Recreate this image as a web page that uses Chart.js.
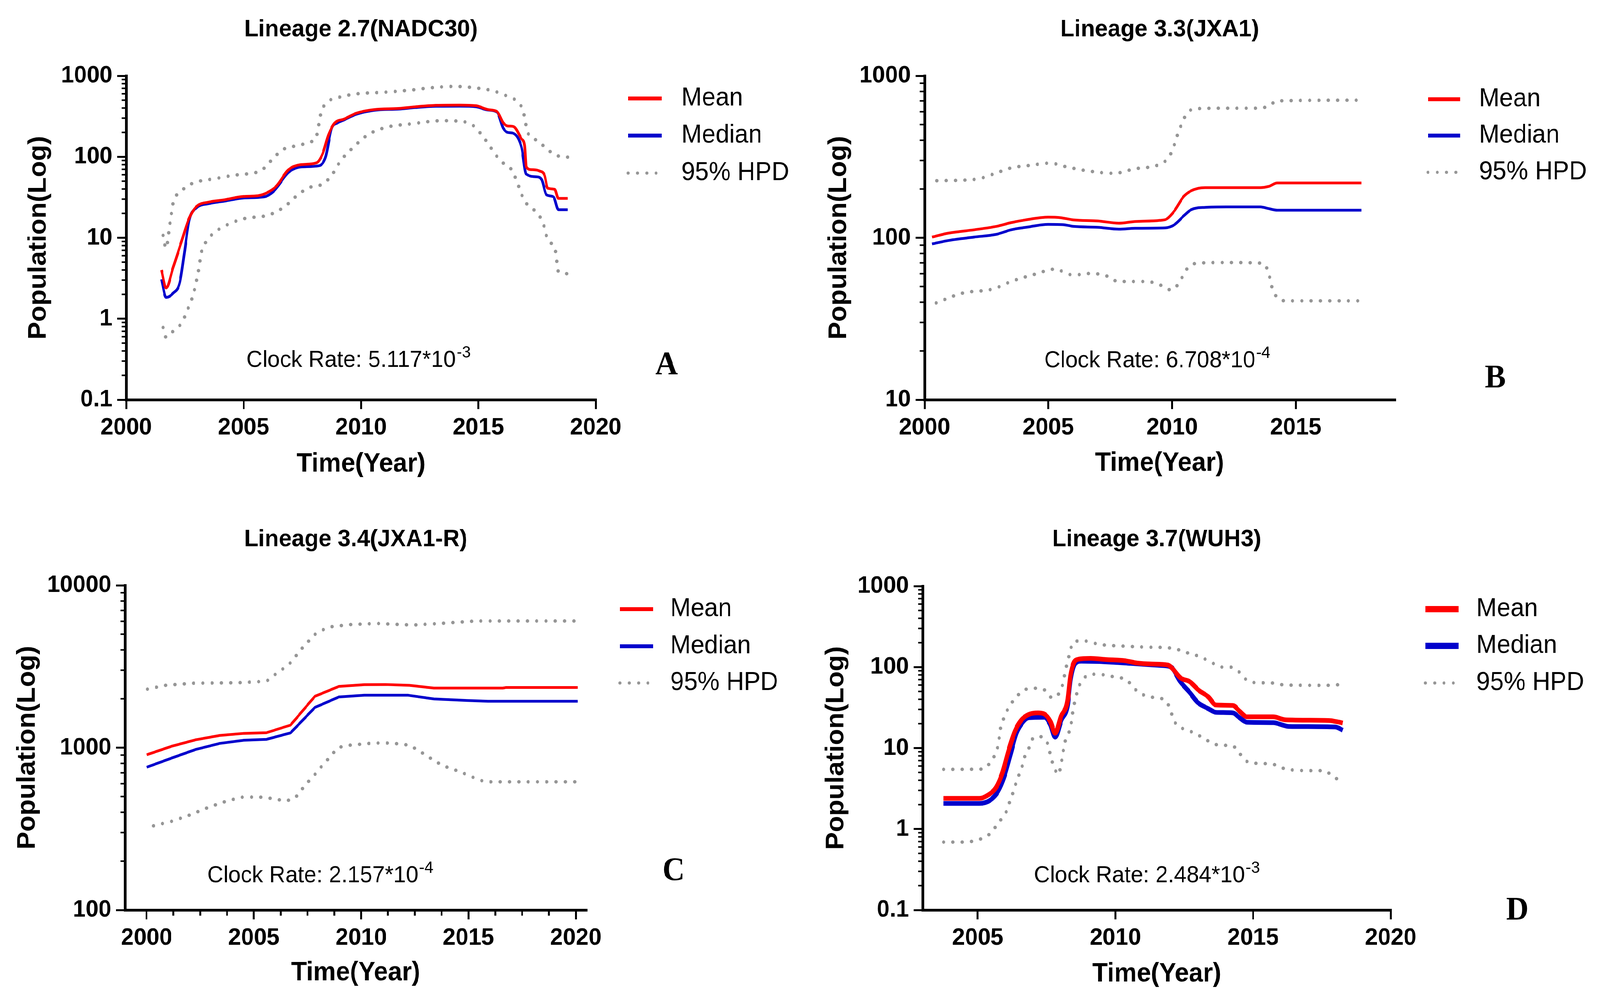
<!DOCTYPE html>
<html>
<head>
<meta charset="utf-8">
<script src="https://cdn.jsdelivr.net/npm/chart.js@4.4.1/dist/chart.umd.min.js"></script>
<style>
  html, body { margin: 0; padding: 0; background: #fff; overflow: hidden; }
  #page { position: relative; width: 4297px; height: 2567px; overflow: hidden; background: #fff; transform-origin: 0 0; }
  canvas { position: absolute; }
</style>
</head>
<body>
<div id="page">
  <canvas id="chartA" width="2150" height="1290" style="left:0px;top:0px"></canvas>
  <canvas id="chartB" width="2147" height="1290" style="left:2150px;top:0px"></canvas>
  <canvas id="chartC" width="2150" height="1277" style="left:0px;top:1290px"></canvas>
  <canvas id="chartD" width="2147" height="1277" style="left:2150px;top:1290px"></canvas>
</div>
<script>
const PAGE_W = 4297, PAGE_H = 2567;
const FONT = '"Liberation Sans", Arial, sans-serif';
const SERIF = '"Liberation Serif", "Times New Roman", serif';
const RED = "rgb(255,0,0)";
const BLUE = "rgb(0,0,204)";
const GREY = "rgb(150,150,150)";

const LABELS = ["Mean", "Median", "95% HPD"];

// A - Lineage 2.7(NADC30)  [year, population]
const A_MEAN = [[2001.5,4.0],[2001.7,2.4],[2002.0,4.3],[2002.35,8.9],[2002.68,17.4],[2003.0,24.4],[2003.5,27.5],[2004.2,29.5],[2005.0,32.4],[2005.6,33],[2006.0,36],[2006.4,43.5],[2006.9,68.7],[2007.45,80],[2008.1,84],[2008.36,108],[2008.62,188],[2008.88,262],[2009.27,291],[2009.8,345],[2010.57,383],[2011.6,395],[2012.3,414],[2013.2,432],[2014.2,435],[2014.9,427],[2015.4,383],[2015.8,360],[2016.06,262],[2016.25,240],[2016.5,236],[2016.84,166],[2016.97,138],[2017.04,75],[2017.23,69.5],[2017.62,66.5],[2017.82,59],[2017.95,41],[2018.25,39.7],[2018.41,30.6],[2018.8,30.6]];
const A_MEDIAN = [[2001.5,3.07],[2001.7,1.83],[2002.0,2.07],[2002.28,2.8],[2002.48,6.6],[2002.68,16.4],[2003.0,23.5],[2003.5,26.3],[2004.2,28.4],[2005.0,31],[2005.87,32],[2006.27,37.3],[2006.92,64.6],[2007.44,75],[2008.22,77.6],[2008.49,99],[2008.75,225],[2009.0,262],[2009.27,285],[2009.8,335],[2010.57,375],[2011.6,388],[2012.3,405],[2013.2,420],[2014.2,422],[2014.9,415],[2015.4,378],[2015.8,355],[2016.06,225],[2016.25,200],[2016.51,194],[2016.84,130],[2017.04,61],[2017.5,56.5],[2017.7,52],[2017.9,34],[2018.2,32],[2018.41,22.2],[2018.8,22.2]];
const A_HPD_HI = [[2001.57,10.7],[2001.7,7.4],[2001.83,12.9],[2002.02,28.4],[2002.28,36],[2002.6,43.5],[2003.0,49],[2003.8,53.8],[2004.57,59],[2005.35,62.7],[2005.74,67.4],[2006.27,96],[2006.66,122],[2007.31,138],[2007.83,152],[2008.1,177],[2008.29,345],[2008.55,468],[2009.0,535],[2009.8,597],[2011.0,627],[2012.14,667],[2012.92,709],[2013.97,740],[2014.88,709],[2015.67,646],[2016.32,545],[2016.71,468],[2016.91,367],[2017.1,200],[2017.56,156],[2017.89,126],[2018.41,102],[2018.8,99]];
const A_HPD_LO = [[2001.57,0.78],[2001.7,0.59],[2002.02,0.71],[2002.35,0.88],[2002.6,1.27],[2002.87,2.07],[2003.07,3.8],[2003.2,6.6],[2003.4,8.9],[2003.66,11],[2004.31,14.5],[2005.09,17.4],[2005.87,18.5],[2006.4,21],[2006.92,26.7],[2007.31,34],[2007.83,42],[2008.36,46],[2008.75,59],[2009.14,90],[2009.66,130],[2010.31,188],[2011.1,232],[2012.14,255],[2013.45,279],[2014.23,274],[2014.75,247],[2015.27,166],[2015.93,90],[2016.45,66.5],[2016.97,28.4],[2017.36,22.2],[2017.75,15.4],[2017.95,9.5],[2018.28,7],[2018.41,3.8],[2018.8,3.6]];
const A_X_TICKS = [2000, 2005, 2010, 2015, 2020];
const A_Y_TICKS = [0.1, 1, 10, 100, 1000];

// B - Lineage 3.3(JXA1)
const B_MEAN = [[2000.3,101],[2001.0,107],[2002.0,112],[2002.9,117.6],[2003.5,124],[2004.1,129],[2005.0,134],[2005.5,133],[2006.0,129],[2007.0,127],[2007.85,123],[2008.5,126],[2009.5,128],[2009.8,131],[2010.1,147],[2010.46,179],[2010.77,195],[2011.33,204],[2012.2,204],[2013.56,204],[2013.93,208],[2014.24,218],[2017.65,218]];
const B_MEDIAN = [[2000.3,91.6],[2001.0,96.4],[2002.0,101],[2002.9,105],[2003.5,112],[2004.1,116],[2005.0,121],[2005.6,120.5],[2006.0,117.6],[2007.0,116],[2007.85,113],[2008.5,114.4],[2009.7,115],[2010.1,120.5],[2010.46,136],[2010.77,149],[2011.33,154],[2012.2,155],[2013.56,155],[2013.93,151],[2014.24,148],[2017.65,148]];
const B_HPD_HI = [[2000.5,225],[2002.1,230],[2002.77,247],[2003.5,270],[2004.26,280],[2005.06,289],[2005.74,274],[2006.5,260],[2007.67,250],[2008.47,266],[2009.47,283],[2009.84,310],[2010.02,350],[2010.27,454],[2010.58,578],[2010.89,625],[2012.2,631],[2013.56,631],[2013.93,655],[2014.24,700],[2017.65,707]];
const B_HPD_LO = [[2000.47,39.6],[2001.53,45.5],[2002.77,48.3],[2003.5,53.7],[2004.5,59.8],[2005.25,64],[2006.0,58.9],[2006.74,60.2],[2007.48,57.2],[2007.79,53.7],[2008.97,53.7],[2009.59,50.6],[2009.96,47.6],[2010.27,52.2],[2010.58,63.7],[2011.02,69.7],[2012.2,70.3],[2013.62,69.7],[2013.87,62.7],[2014.06,48.3],[2014.24,42.8],[2014.62,40.8],[2017.65,40.8]];
const B_X_TICKS = [2000, 2005, 2010, 2015];
const B_Y_TICKS = [10, 100, 1000];

// C - Lineage 3.4(JXA1-R)
const C_MEAN = [[2000.0,903],[2001.17,1020],[2002.29,1118],[2003.41,1189],[2004.54,1225],[2005.59,1236],[2006.71,1377],[2007.84,2070],[2008.96,2385],[2010.15,2443],[2011.14,2449],[2012.26,2421],[2013.38,2328],[2014.51,2328],[2016.6,2328],[2016.76,2349],[2020.1,2349]];
const C_MEDIAN = [[2000.0,757],[2001.17,863],[2002.29,975],[2003.41,1062],[2004.54,1111],[2005.59,1125],[2006.71,1233],[2007.84,1767],[2008.96,2052],[2010.15,2103],[2012.19,2103],[2013.38,1996],[2014.93,1953],[2015.91,1931],[2020.1,1931]];
const C_HPD_HI = [[2000.04,2293],[2000.88,2421],[2002.15,2495],[2004.26,2511],[2005.59,2565],[2005.94,2792],[2006.29,3017],[2006.64,3257],[2006.92,3622],[2007.2,4033],[2007.49,4420],[2007.77,4917],[2008.19,5305],[2008.61,5556],[2009.45,5728],[2010.72,5821],[2012.4,5692],[2013.67,5821],[2015.35,6029],[2020.1,6029]];
const C_HPD_LO = [[2000.32,330],[2001.17,352],[2002.0,384],[2002.85,427],[2003.55,461],[2004.4,495],[2005.24,497],[2005.8,487],[2006.5,469],[2006.92,490],[2007.2,546],[2007.49,607],[2007.77,665],[2008.05,740],[2008.33,811],[2008.61,902],[2008.96,1004],[2009.45,1035],[2010.58,1068],[2011.42,1068],[2012.26,1035],[2012.68,959],[2013.38,836],[2013.81,774],[2014.65,707],[2015.35,645],[2015.77,616],[2020.1,616]];
const C_X_TICKS = [2000, 2005, 2010, 2015, 2020];
const C_X_MINOR = [2001.25, 2002.5, 2003.75, 2006.25, 2007.5, 2008.75, 2011.25, 2012.5, 2013.75, 2016.25, 2017.5, 2018.75];
const C_Y_TICKS = [100, 1000, 10000];

// D - Lineage 3.7(WUH3)
const D_MEAN = [[2003.76,2.39],[2005.06,2.39],[2005.39,2.65],[2005.67,3.28],[2005.9,5.0],[2006.12,9.3],[2006.35,16.1],[2006.57,21.9],[2006.85,26],[2007.19,27.2],[2007.42,26.3],[2007.64,21.2],[2007.81,15.2],[2008.03,24.8],[2008.26,38],[2008.37,79],[2008.48,111],[2008.65,125],[2009.1,128],[2009.66,124],[2010.34,120],[2010.79,112],[2011.35,109],[2011.91,106],[2012.08,95],[2012.36,73.6],[2012.7,66],[2013.03,51.6],[2013.37,43],[2013.65,34],[2014.27,33.6],[2014.49,28.9],[2014.78,24.3],[2015.73,24.3],[2016.18,22.3],[2017.75,21.9],[2018.03,21.2],[2018.26,20.4]];
const D_MEDIAN = [[2003.76,2.07],[2005.06,2.07],[2005.45,2.27],[2005.73,2.9],[2005.96,4.46],[2006.18,8.2],[2006.4,15.2],[2006.63,20.8],[2006.85,23.7],[2007.42,24],[2007.64,19.4],[2007.81,13.6],[2008.03,21.9],[2008.26,33.6],[2008.37,70],[2008.54,111],[2008.76,118],[2009.66,116],[2010.56,111],[2011.69,104.4],[2012.02,100],[2012.36,66],[2012.7,48.5],[2012.98,36.8],[2013.37,30.7],[2013.65,27.6],[2014.27,27.2],[2014.49,24],[2014.78,20.8],[2015.73,20.6],[2016.29,18.5],[2017.98,18.2],[2018.26,16.6]];
const D_HPD_HI = [[2003.76,5.46],[2005.17,5.5],[2005.45,6.6],[2005.62,8.2],[2005.73,10.5],[2005.84,18.2],[2005.96,24],[2006.12,31.6],[2006.29,38.5],[2006.52,47],[2006.8,53.8],[2007.13,54.8],[2007.47,51],[2007.7,41.7],[2007.92,45.7],[2008.09,62],[2008.2,95],[2008.31,137],[2008.48,205],[2008.82,211],[2009.44,190],[2010.34,181],[2011.24,176],[2011.91,173],[2012.25,165],[2012.58,151],[2012.87,142],[2013.2,128],[2013.48,115],[2013.82,100],[2014.16,100],[2014.44,90.6],[2014.66,74.5],[2014.94,64.7],[2015.62,63.8],[2016.18,60],[2017.64,59.5],[2018.26,61]];
const D_HPD_LO = [[2003.76,0.69],[2004.49,0.69],[2005.11,0.755],[2005.45,0.88],[2005.67,1.09],[2005.9,1.39],[2006.07,1.73],[2006.18,2.27],[2006.29,2.9],[2006.4,3.8],[2006.52,4.9],[2006.63,6.2],[2006.74,8.5],[2006.91,10.8],[2007.02,13.4],[2007.3,13.8],[2007.53,11.5],[2007.7,6.8],[2007.81,5.4],[2007.92,4.7],[2008.03,6.4],[2008.15,11.2],[2008.26,14.3],[2008.37,18.2],[2008.48,31.6],[2008.65,54.8],[2008.82,70],[2009.04,80.7],[2009.38,81.7],[2009.72,78.3],[2010.06,74.5],[2010.39,70],[2010.62,58.3],[2010.84,48.5],[2011.12,44.3],[2011.46,41.7],[2011.8,39.2],[2011.97,31.6],[2012.08,24],[2012.25,18.8],[2012.53,17.1],[2012.87,15.3],[2013.15,13.6],[2013.48,11.7],[2013.82,10.8],[2014.16,10.8],[2014.44,9.5],[2014.61,7.7],[2014.89,6.6],[2015.56,6.4],[2015.9,6.06],[2016.18,5.5],[2017.19,5.26],[2017.58,5.26],[2017.81,4.75],[2018.03,4.2],[2018.26,3.6]];
const D_X_TICKS = [2005, 2010, 2015, 2020];
const D_Y_TICKS = [0.1, 1, 10, 100, 1000];

const PANELS = [
  { id: "chartA", title: "Lineage 2.7(NADC30)", rate: "Clock Rate: 5.117*10", exp: "-3", letter: "A",
    series: [A_MEAN, A_MEDIAN, A_HPD_HI, A_HPD_LO], xTicks: A_X_TICKS, xMinor: [], yTicks: A_Y_TICKS,
    xMin: 2000, xMax: 2020, smooth: true, lineW: 7, legendW: 10,
    box: { w: 2150, h: 1290, left: 339, top: 194, right: 1600, bottom: 1023, titleY: 76, xTitleY: 1188, yTitleX: 104 },
    legend: { x0: 1687, x1: 1777, tx: 1830, rows: [252, 347, 443] },
    rateAt: { x: 963, y: 939 }, letterAt: { x: 1790, y: 958 } },
  { id: "chartB", title: "Lineage 3.3(JXA1)", rate: "Clock Rate: 6.708*10", exp: "-4", letter: "B",
    series: [B_MEAN, B_MEDIAN, B_HPD_HI, B_HPD_LO], xTicks: B_X_TICKS, xMinor: [], yTicks: B_Y_TICKS,
    xMin: 2000, xMax: 2019, smooth: true, lineW: 7, legendW: 10,
    box: { w: 2147, h: 1290, left: 333, top: 194, right: 1596, bottom: 1023, titleY: 76, xTitleY: 1186, yTitleX: 103 },
    legend: { x0: 1685, x1: 1771, tx: 1822, rows: [254, 347, 441] },
    rateAt: { x: 958, y: 940 }, letterAt: { x: 1866, y: 992 } },
  { id: "chartC", title: "Lineage 3.4(JXA1-R)", rate: "Clock Rate: 2.157*10", exp: "-4", letter: "C",
    series: [C_MEAN, C_MEDIAN, C_HPD_HI, C_HPD_LO], xTicks: C_X_TICKS, xMinor: C_X_MINOR, yTicks: C_Y_TICKS,
    xMin: 1999, xMax: 2020.5, smooth: false, lineW: 7, legendW: 10,
    box: { w: 2150, h: 1277, left: 336, top: 208, right: 1575, bottom: 1039, titleY: 91, xTitleY: 1200, yTitleX: 74 },
    legend: { x0: 1665, x1: 1754, tx: 1800, rows: [269, 364, 458] },
    rateAt: { x: 860, y: 968 }, letterAt: { x: 1809, y: 963 } },
  { id: "chartD", title: "Lineage 3.7(WUH3)", rate: "Clock Rate: 2.484*10", exp: "-3", letter: "D",
    series: [D_MEAN, D_MEDIAN, D_HPD_HI, D_HPD_LO], xTicks: D_X_TICKS, xMinor: [], yTicks: D_Y_TICKS,
    xMin: 2003, xMax: 2020, smooth: true, lineW: 12, legendW: 16,
    box: { w: 2147, h: 1277, left: 328, top: 210, right: 1585, bottom: 1039, titleY: 91, xTitleY: 1203, yTitleX: 96 },
    legend: { x0: 1678, x1: 1767, tx: 1815, rows: [269, 363, 458] },
    rateAt: { x: 930, y: 968 }, letterAt: { x: 1925, y: 1064 } }
];

// fit the fixed-size figure into whatever viewport the browser really has
function fitPage() {
  const page = document.getElementById("page");
  const sx = window.innerWidth / PAGE_W;
  const sy = window.innerHeight / PAGE_H;
  if (sx > 0 && sy > 0 && (Math.abs(sx - 1) > 0.001 || Math.abs(sy - 1) > 0.001)) {
    page.style.transform = `scale(${sx}, ${sy})`;
  }
}

function toXY(arr) {
  return arr.map(([x, y]) => ({ x, y }));
}

function logMinors(decades) {
  const out = [];
  for (let i = 0; i < decades.length - 1; i++) {
    for (let k = 2; k <= 9; k++) out.push(+(decades[i] * k).toPrecision(3));
  }
  return out;
}

function makeAnnotate(p) {
  return {
    id: "annotate",
    afterDraw(chart) {
      const ctx = chart.ctx;
      const xs = chart.scales.x, ys = chart.scales.y;
      ctx.save();

      // minor ticks
      ctx.strokeStyle = "#000";
      ctx.lineCap = "butt";
      ctx.lineWidth = 4;
      logMinors(p.yTicks).forEach(v => {
        const py = ys.getPixelForValue(v);
        ctx.beginPath();
        ctx.moveTo(ys.right - 12.5, py);
        ctx.lineTo(ys.right, py);
        ctx.stroke();
      });
      ctx.lineWidth = 5;
      p.xMinor.forEach(v => {
        const px = xs.getPixelForValue(v);
        ctx.beginPath();
        ctx.moveTo(px, xs.top);
        ctx.lineTo(px, xs.top + 14.5);
        ctx.stroke();
      });

      // legend
      const L = p.legend;
      chart.data.datasets.slice(0, 3).forEach((ds, i) => {
        const y = L.rows[i];
        ctx.save();
        ctx.strokeStyle = ds.borderColor;
        if (i === 2) {
          ctx.lineWidth = 8;
          ctx.lineCap = "round";
          ctx.setLineDash([0, 25]);
        } else {
          ctx.lineWidth = p.legendW;
          ctx.lineCap = "butt";
        }
        ctx.beginPath();
        ctx.moveTo(L.x0, y);
        ctx.lineTo(L.x1, y);
        ctx.stroke();
        ctx.restore();
        ctx.fillStyle = "#000";
        ctx.font = "66px " + FONT;
        ctx.textAlign = "left";
        ctx.textBaseline = "middle";
        ctx.fillText(ds.label, L.tx, y);
      });

      // clock rate
      ctx.fillStyle = "#000";
      ctx.textBaseline = "alphabetic";
      ctx.textAlign = "left";
      ctx.font = "60px " + FONT;
      const w1 = ctx.measureText(p.rate).width;
      ctx.font = "43px " + FONT;
      const w2 = ctx.measureText(p.exp).width;
      const x0 = p.rateAt.x - (w1 + w2 + 2) / 2;
      ctx.font = "60px " + FONT;
      ctx.fillText(p.rate, x0, p.rateAt.y);
      ctx.font = "43px " + FONT;
      ctx.fillText(p.exp, x0 + w1 + 2, p.rateAt.y - 24);

      // panel letter
      ctx.font = "bold 84px " + SERIF;
      ctx.textAlign = "center";
      ctx.fillText(p.letter, p.letterAt.x, p.letterAt.y);

      ctx.restore();
    }
  };
}

function makeChart(p) {
  const b = p.box;
  const axisTitleLh = 68 * 1.2;
  const titleLh = 62 * 1.2;
  const hx = b.xTitleY - b.bottom + axisTitleLh / 2;

  const common = {
    pointRadius: 0,
    fill: false,
    cubicInterpolationMode: p.smooth ? "monotone" : "default",
    tension: 0
  };

  const datasets = [
    Object.assign({ label: LABELS[0], data: toXY(p.series[0]), borderColor: RED, borderWidth: p.lineW, borderJoinStyle: "round" }, common),
    Object.assign({ label: LABELS[1], data: toXY(p.series[1]), borderColor: BLUE, borderWidth: p.lineW, borderJoinStyle: "round" }, common),
    Object.assign({ label: LABELS[2], data: toXY(p.series[2]), borderColor: GREY, borderWidth: 9, borderDash: [0, 25], borderCapStyle: "round" }, common),
    Object.assign({ label: LABELS[2], data: toXY(p.series[3]), borderColor: GREY, borderWidth: 9, borderDash: [0, 25], borderCapStyle: "round" }, common)
  ];

  const tickFont = { family: FONT, size: 62, weight: "bold" };
  const titleFont = { family: FONT, size: 68, weight: "bold" };
  const grid = { display: true, drawOnChartArea: false, drawTicks: true, tickLength: 24, tickWidth: 5, tickColor: "#000", lineWidth: 5, color: "#000" };
  const border = { display: true, width: 7, color: "#000" };

  new Chart(document.getElementById(p.id), {
    type: "line",
    data: { datasets },
    options: {
      responsive: false,
      animation: false,
      devicePixelRatio: 1,
      events: [],
      layout: { padding: { left: 0, top: 0, right: b.w - b.right, bottom: b.h - b.bottom - hx } },
      plugins: {
        legend: { display: false },
        tooltip: { enabled: false },
        title: {
          display: true,
          text: p.title,
          fullSize: false,
          color: "#000",
          font: { family: FONT, size: 62, weight: "bold" },
          padding: { top: b.titleY - titleLh / 2, bottom: b.top - b.titleY - titleLh / 2 }
        }
      },
      scales: {
        x: {
          type: "linear",
          min: p.xMin,
          max: p.xMax,
          afterBuildTicks: s => { s.ticks = p.xTicks.map(v => ({ value: v })); },
          afterFit: s => { s.height = hx; s.paddingLeft = 0; s.paddingRight = 0; },
          ticks: { autoSkip: false, maxRotation: 0, minRotation: 0, padding: 11, color: "#000", font: tickFont, callback: v => String(v) },
          grid, border,
          title: { display: true, text: "Time(Year)", color: "#000", font: titleFont, padding: 0 }
        },
        y: {
          type: "logarithmic",
          min: p.yTicks[0],
          max: p.yTicks[p.yTicks.length - 1],
          afterBuildTicks: s => { s.ticks = p.yTicks.map(v => ({ value: v })); },
          afterFit: s => { s.width = b.left; s.paddingTop = 0; s.paddingBottom = 0; },
          ticks: { autoSkip: false, padding: 13, color: "#000", font: tickFont, callback: v => String(v) },
          grid, border,
          title: { display: true, text: "Population(Log)", color: "#000", font: titleFont, padding: { top: b.yTitleX - axisTitleLh / 2, bottom: 0 } }
        }
      }
    },
    plugins: [makeAnnotate(p)]
  });
}

fitPage();
PANELS.forEach(makeChart);
</script>
</body>
</html>
